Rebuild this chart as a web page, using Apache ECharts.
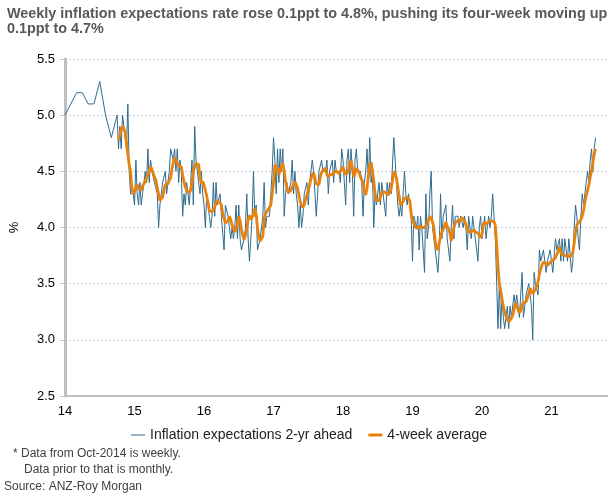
<!DOCTYPE html>
<html>
<head>
<meta charset="utf-8">
<script src="https://cdn.jsdelivr.net/npm/echarts@6/dist/echarts.min.js"></script>
<style>
  html, body { margin: 0; padding: 0; background: #fff; }
  #chart { width: 616px; height: 498px; }
</style>
</head>
<body>
<div id="chart"></div>
<script>
// monthly survey Jan-Oct 2014
var monthlyRate = [5.0, 5.1, 5.2, 5.2, 5.1, 5.1, 5.3, 5.0, 4.8, 5.0];
// weekly survey from Oct 2014 (year as 14.77 = first week)
var weekStart = 14.77;
var weekly2014 = [4.7, 4.9, 4.7, 5.0, 5.0, 4.8, 4.7, 5.1, 4.5, 4.3, 4.3, 4.3];
var weekly2015 = [4.2, 4.6, 4.3, 4.2, 4.4, 4.2, 4.3, 4.4, 4.5, 4.4, 4.7, 4.4, 4.6, 4.5, 4.5, 4.4, 4.4, 4.3, 4.0, 4.2,
  4.3, 4.4, 4.4, 4.5, 4.3, 4.4, 4.5, 4.7, 4.7, 4.6, 4.7, 4.5, 4.7, 4.4, 4.6, 4.5, 4.1, 4.3, 4.2, 4.4,
  4.3, 4.2, 4.4, 4.6, 4.2, 4.9, 4.6, 4.5, 4.4, 4.3, 4.5, 4.3];
var weekly2016 = [4.2, 4.0, 4.3, 4.2, 4.1, 4.0, 4.1, 4.4, 4.1, 4.4, 4.2, 4.2, 4.3, 4.1, 4.1, 3.8, 4.2, 4.2, 4.1, 4.0,
  3.9, 4.0, 3.9, 4.0, 4.2, 3.9, 4.2, 3.9, 3.8, 3.8, 3.9, 4.0, 4.3, 3.9, 3.7, 3.9, 4.1, 4.5, 4.1, 4.2,
  3.8, 3.8, 3.9, 3.9, 4.1, 4.4, 4.0, 4.1, 4.1, 4.1, 4.3, 4.5];
var weekly2017 = [4.8, 4.6, 4.3, 4.7, 4.4, 4.7, 4.5, 4.7, 4.1, 4.3, 4.4, 4.3, 4.3, 4.4, 4.6, 4.3, 4.5, 4.3, 4.2, 4.0,
  4.2, 4.0, 4.1, 4.3, 4.3, 4.4, 4.2, 4.4, 4.4, 4.6, 4.5, 4.3, 4.1, 4.3, 4.5, 4.5, 4.6, 4.5, 4.5, 4.5,
  4.6, 4.3, 4.5, 4.5, 4.6, 4.4, 4.6, 4.5, 4.5, 4.5, 4.4, 4.7];
var weekly2018 = [4.6, 4.4, 4.2, 4.6, 4.7, 4.4, 4.7, 4.5, 4.1, 4.6, 4.7, 4.5, 4.5, 4.5, 4.4, 4.1, 4.4, 4.5, 4.7, 4.4,
  4.8, 4.4, 4.5, 4.0, 4.3, 4.2, 4.2, 4.4, 4.2, 4.4, 4.3, 4.3, 4.1, 4.4, 4.3, 4.4, 4.3, 4.3, 4.8, 4.6,
  4.4, 4.2, 4.1, 4.2, 4.1, 4.3, 4.5, 4.3, 4.2, 4.3, 4.2, 4.1];
var weekly2019 = [3.7, 4.1, 4.1, 4.0, 4.1, 3.8, 4.1, 4.0, 4.0, 3.6, 4.3, 3.9, 4.0, 4.3, 4.5, 4.0, 3.9, 3.8, 3.8, 3.6,
  3.8, 4.3, 3.9, 4.1, 4.1, 4.2, 3.9, 3.8, 3.7, 4.0, 4.2, 3.9, 4.1, 4.1, 4.1, 4.0, 4.1, 4.1, 4.0, 4.1,
  4.0, 3.8, 4.1, 4.1, 3.9, 4.1, 4.0, 3.9, 3.9, 3.7, 4.0, 4.1];
var weekly2020 = [3.9, 4.0, 4.1, 3.9, 4.0, 4.1, 4.0, 4.1, 4.3, 4.1, 3.9, 3.5, 3.1, 3.5, 3.1, 3.4, 3.2, 3.1, 3.1, 3.3,
  3.1, 3.3, 3.2, 3.2, 3.4, 3.3, 3.4, 3.3, 3.2, 3.4, 3.6, 3.2, 3.3, 3.4, 3.4, 3.5, 3.4, 3.3, 3.0, 3.6,
  3.5, 3.5, 3.4, 3.8, 3.7, 3.7, 3.8, 3.7, 3.6, 3.7, 3.7, 3.8];
var weekly2021 = [3.8, 3.6, 3.6, 3.9, 3.8, 3.8, 3.9, 3.7, 3.9, 3.7, 3.9, 3.9, 3.7, 3.9, 3.9, 3.6, 3.7, 4.0, 4.2, 4.1,
  3.9, 3.8, 4.1, 4.3, 4.2, 4.3, 4.4, 4.5, 4.4, 4.6, 4.7, 4.5, 4.7, 4.8];

// 4-week average, same weeks
var avg2014 = [4.78, 4.82, 4.88, 4.90, 4.88, 4.85, 4.75, 4.65, 4.56, 4.50, 4.35, 4.30];
var avg2015 = [4.32, 4.36, 4.38, 4.35, 4.34, 4.33, 4.37, 4.39, 4.41, 4.44, 4.47, 4.50, 4.54, 4.52, 4.48, 4.45, 4.42, 4.35, 4.30, 4.24,
  4.25, 4.27, 4.33, 4.38, 4.38, 4.39, 4.42, 4.44, 4.52, 4.58, 4.62, 4.60, 4.57, 4.55, 4.54, 4.54, 4.47, 4.41, 4.36, 4.33,
  4.31, 4.30, 4.33, 4.41, 4.50, 4.54, 4.57, 4.57, 4.56, 4.45, 4.39, 4.41];
var avg2016 = [4.38, 4.33, 4.28, 4.22, 4.15, 4.15, 4.14, 4.16, 4.18, 4.22, 4.24, 4.23, 4.22, 4.20, 4.12, 4.08, 4.04, 4.04, 4.06, 4.10,
  4.07, 4.02, 3.99, 3.96, 3.99, 4.03, 4.10, 4.06, 3.98, 3.93, 3.89, 3.93, 3.98, 4.08, 4.11, 4.07, 4.09, 4.11, 4.17, 4.12,
  4.00, 3.92, 3.88, 3.87, 3.92, 4.08, 4.12, 4.14, 4.16, 4.17, 4.20, 4.30];
var avg2017 = [4.40, 4.56, 4.57, 4.52, 4.47, 4.51, 4.55, 4.57, 4.50, 4.41, 4.36, 4.31, 4.30, 4.33, 4.36, 4.38, 4.41, 4.40, 4.35, 4.29,
  4.23, 4.20, 4.18, 4.20, 4.25, 4.29, 4.33, 4.38, 4.43, 4.47, 4.49, 4.44, 4.39, 4.38, 4.38, 4.45, 4.49, 4.51, 4.52, 4.53,
  4.47, 4.45, 4.47, 4.47, 4.47, 4.49, 4.50, 4.50, 4.49, 4.48, 4.50, 4.52];
var avg2018 = [4.54, 4.50, 4.47, 4.48, 4.50, 4.56, 4.60, 4.53, 4.45, 4.48, 4.53, 4.51, 4.49, 4.45, 4.44, 4.40, 4.32, 4.29, 4.35, 4.46,
  4.55, 4.58, 4.51, 4.42, 4.30, 4.24, 4.23, 4.24, 4.28, 4.30, 4.32, 4.31, 4.31, 4.30, 4.29, 4.30, 4.34, 4.42, 4.50, 4.48,
  4.44, 4.36, 4.28, 4.20, 4.20, 4.23, 4.26, 4.27, 4.27, 4.27, 4.24, 4.12];
var avg2019 = [4.06, 4.04, 4.01, 3.99, 4.00, 4.01, 4.02, 4.00, 4.01, 4.00, 4.01, 4.03, 4.07, 4.10, 4.08, 4.05, 4.00, 3.88, 3.82, 3.80,
  3.86, 3.92, 3.96, 3.98, 4.01, 4.05, 4.01, 3.99, 3.95, 3.88, 3.94, 4.00, 4.04, 4.06, 4.07, 4.05, 4.07, 4.09, 4.09, 4.06,
  4.02, 3.99, 3.96, 3.97, 3.96, 3.95, 3.98, 3.96, 3.96, 3.95, 3.94, 3.91];
var avg2020 = [3.94, 4.03, 4.05, 4.03, 4.03, 4.05, 4.04, 4.06, 4.07, 4.05, 4.02, 3.85, 3.65, 3.50, 3.44, 3.36, 3.30, 3.25, 3.21, 3.18,
  3.16, 3.17, 3.19, 3.22, 3.27, 3.33, 3.32, 3.27, 3.24, 3.26, 3.31, 3.33, 3.34, 3.34, 3.37, 3.41, 3.46, 3.46, 3.41, 3.41,
  3.45, 3.48, 3.52, 3.59, 3.63, 3.67, 3.69, 3.70, 3.68, 3.66, 3.67, 3.69];
var avg2021 = [3.70, 3.71, 3.70, 3.73, 3.76, 3.79, 3.83, 3.78, 3.76, 3.75, 3.75, 3.75, 3.75, 3.75, 3.74, 3.74, 3.78, 3.86, 3.96, 4.02,
  4.04, 4.05, 4.07, 4.10, 4.15, 4.22, 4.28, 4.33, 4.38, 4.45, 4.50, 4.58, 4.65, 4.70];

var yearTicks = [14, 15, 16, 17, 18, 19, 20, 21];

var weeklyRate = [].concat(weekly2014, weekly2015, weekly2016, weekly2017, weekly2018, weekly2019, weekly2020, weekly2021);
var weeklyAvg = [].concat(avg2014, avg2015, avg2016, avg2017, avg2018, avg2019, avg2020, avg2021);

var rateData = monthlyRate.map(function (v, m) { return [14 + m / 12, v]; })
  .concat(weeklyRate.map(function (v, i) { return [weekStart + i / 52, v]; }));
var avgData = weeklyAvg.map(function (v, i) { return [weekStart + i / 52, v]; });

var font = 'Liberation Sans';
var chart = echarts.init(document.getElementById('chart'), null, { renderer: 'canvas' });

chart.setOption({
  animation: false,
  backgroundColor: '#fff',
  title: {
    text: 'Weekly inflation expectations rate rose 0.1ppt to 4.8%, pushing its four-week moving up\n0.1ppt to 4.7%',
    left: 2,
    top: 2,
    textStyle: { fontFamily: font, fontSize: 14.4, fontWeight: 'bold', color: '#595959', lineHeight: 15 }
  },
  grid: { left: 59, right: 9, top: 59, bottom: 102 },
  legend: {
    left: 126,
    top: 423,
    itemWidth: 14,
    itemHeight: 10,
    itemGap: 16,
    symbolKeepAspect: true,
    textStyle: { fontFamily: font, fontSize: 14, color: '#222' },
    data: [
      { name: 'Inflation expectations 2-yr ahead', icon: 'path://M0,0L14,0L14,1L0,1Z' },
      { name: '4-week average', icon: 'path://M0,0L14,0L14,3L0,3Z' }
    ]
  },
  xAxis: {
    type: 'value',
    min: 14,
    max: 21.8,
    interval: 1,
    axisLine: { show: true, onZero: false, lineStyle: { color: '#bfbfbf', width: 2 } },
    axisTick: { show: false },
    splitLine: { show: false },
    axisLabel: {
      margin: 9,
      fontFamily: font, fontSize: 13, color: '#000',
      showMaxLabel: false,
      formatter: function (v) { return yearTicks.indexOf(v) >= 0 ? String(v) : ''; }
    }
  },
  yAxis: {
    type: 'value',
    min: 2.5,
    max: 5.5,
    interval: 0.5,
    name: '%',
    nameLocation: 'middle',
    nameRotate: 90,
    nameGap: 44,
    nameTextStyle: { fontFamily: font, fontSize: 13, color: '#000' },
    axisLine: { show: true, lineStyle: { color: '#bfbfbf', width: 3 } },
    axisTick: { show: true, length: 5, lineStyle: { color: '#bfbfbf', width: 1 } },
    splitLine: { show: true, lineStyle: { color: '#c3d0d9', type: [2, 2], width: 1 } },
    axisLabel: {
      margin: 10,
      fontFamily: font, fontSize: 13, color: '#000',
      formatter: function (v) { return v.toFixed(1); }
    }
  },
  series: [
    {
      name: 'Inflation expectations 2-yr ahead',
      type: 'line',
      data: rateData,
      symbol: 'none',
      lineStyle: { color: '#2f6b8e', width: 1 },
      itemStyle: { color: '#2f6b8e' },
      z: 2
    },
    {
      name: '4-week average',
      type: 'line',
      data: avgData,
      symbol: 'none',
      lineStyle: { color: '#e8820c', width: 2.8 },
      itemStyle: { color: '#e8820c' },
      z: 3
    }
  ],
  graphic: [
    {
      type: 'text', left: 13, top: 448,
      style: { text: '* Data from Oct-2014 is weekly.', fontFamily: font, fontSize: 12, fill: '#404040' }
    },
    {
      type: 'text', left: 24, top: 464,
      style: { text: 'Data prior to that is monthly.', fontFamily: font, fontSize: 12, fill: '#404040' }
    },
    {
      type: 'text', left: 4, top: 481,
      style: { text: 'Source: ANZ-Roy Morgan', fontFamily: font, fontSize: 12, fill: '#404040' }
    }
  ]
});
</script>
</body>
</html>
